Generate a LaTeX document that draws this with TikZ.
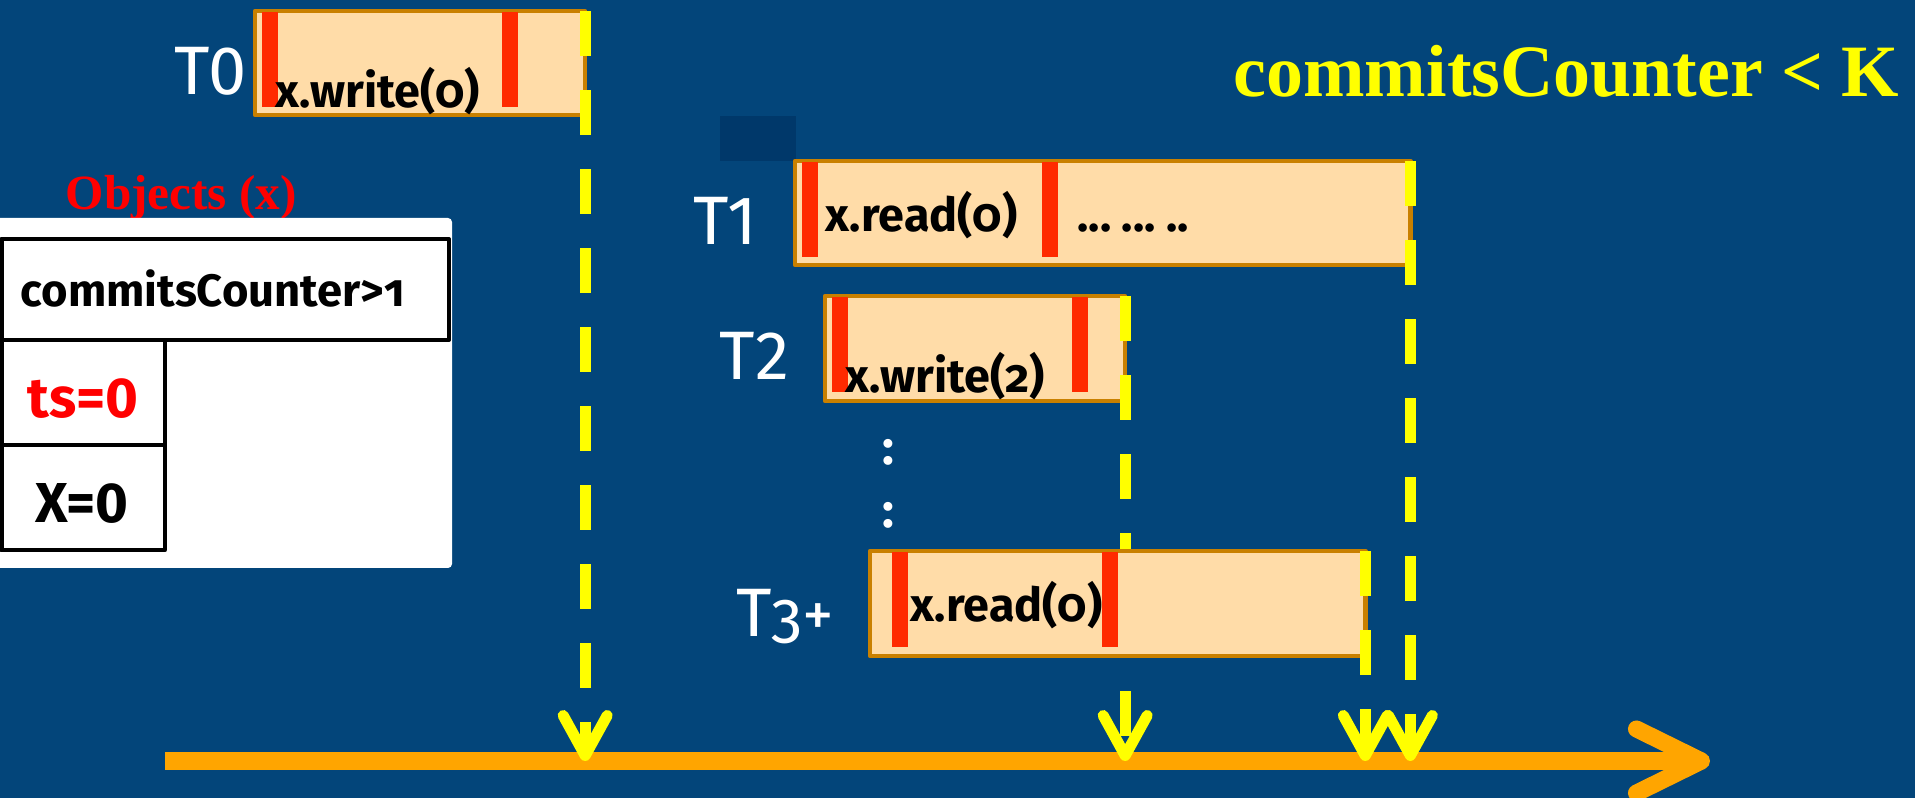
\documentclass[tikz,border=0pt]{standalone}
\usepackage{fontspec}
\usetikzlibrary{arrows.meta}
\newfontfamily\opfont{Fira Sans}[Numbers=OldStyle]
\newfontfamily\labfont{Fira Sans}
\newfontfamily\headfont{Liberation Serif}
\definecolor{slide}{HTML}{03457A}
\definecolor{darkslide}{HTML}{00386A}
\definecolor{peach}{HTML}{FFDCA8}
\definecolor{rim}{HTML}{C98000}
\definecolor{barred}{HTML}{FF2A00}
\definecolor{yel}{HTML}{FFFF00}
\definecolor{amber}{HTML}{FFA500}
\tikzset{
  txbox/.style={draw=rim, fill=peach, line width=0.45mm, inner sep=0pt, outer sep=0pt, anchor=north west},
  bar/.style={fill=barred},
  optext/.style={inner sep=0pt, font=\opfont\bfseries\fontsize{13.3}{15}\selectfont},
  tlabel/.style={inner sep=0pt, text=white, font=\labfont\fontsize{19.5}{22}\selectfont},
  cell/.style={draw=black, line width=0.4mm},
  commit/.style={draw=yel, line width=1.1mm, dash pattern=on 4.5mm off 3.4mm,
    -{Straight Barb[length=4mm,width=4.4mm,round]}},
  timeline/.style={draw=amber, line width=1.7mm, -{Straight Barb[length=6.5mm,width=6.4mm,round]}}
}
\begin{document}
\begin{tikzpicture}[x=0.01cm, y=-0.01cm, line join=round]
  \useasboundingbox (0,0) rectangle (1915,798);
  \clip (0,0) rectangle (1915,798);
  \fill[slide] (0,0) rectangle (1915,798);

  % object x
  \node[inner sep=0pt, text=red, font=\headfont\bfseries\fontsize{14}{16}\selectfont, anchor=base west] (obj) at (65,210) {Objects (x)};
  \fill[white, rounded corners=0.4mm] (-20,218) rectangle (452,568);
  \draw[cell] (1.5,239) rectangle (449,340);
  \draw[cell] (1.5,340) rectangle (164.5,445.5);
  \draw[cell] (1.5,445.5) rectangle (164.5,550.5);
  \node[inner sep=0pt, font=\opfont\bfseries\fontsize{12.9}{14}\selectfont, anchor=base west] (cc) at (20,307) {commitsCounter>1};
  \node[inner sep=0pt, text=red, font=\labfont\bfseries\fontsize{16}{18}\selectfont, anchor=base] (ts) at (83,418) {ts=0};
  \node[inner sep=0pt, font=\labfont\bfseries\fontsize{16}{18}\selectfont, anchor=base] (xv) at (82,523) {X=0};

  \node[inner sep=0pt, text=yel, font=\headfont\bfseries\fontsize{21}{24}\selectfont, anchor=base east] (cond) at (1900,97) {commitsCounter < K};

  \fill[darkslide] (720,116) rectangle (796,161);

  % time axis
  \coordinate (tl) at (165,761);
  \coordinate (tr) at (1710,761);
  \draw[timeline] (tl) -- (tr);

  % transactions
  \node[txbox, minimum width=3.30cm, minimum height=1.04cm] (t0) at (255,11) {};
  \node[txbox, minimum width=6.15cm, minimum height=1.04cm] (t1) at (795,161) {};
  \node[txbox, minimum width=3.00cm, minimum height=1.05cm] (t2) at (825,296) {};
  \foreach \tx/\dx in {t0/7,t0/247,t1/7,t1/247,t2/7,t2/247}
    \fill[bar] ([shift={(\dx,1)}]\tx.north west) rectangle +(16,95);

  \node[optext, anchor=base west] (op0) at (275,108) {x.write(0)};
  \node[optext, anchor=base west] (op1) at (825,232) {x.read(0)};
  \node[optext, anchor=base west] (more) at (1077,232) {...\kern3pt...\kern3pt..};
  \node[optext, anchor=base west] (op2) at (845,393) {x.write(2)};

  \node[tlabel, anchor=base east] (n0) at (247,95) {T0};
  \node[tlabel, anchor=base east] (n1) at (758,245) {T1};
  \node[tlabel, anchor=base east] (n2) at (790,380) {T2};
  \node[tlabel, anchor=base east] (n3) at (835,637) {T{\opfont\fontsize{18}{20}\selectfont 3+}};

  \node[inner sep=0pt, text=white, font=\labfont\bfseries\fontsize{14}{16}\selectfont] (c1) at (888,452) {:};
  \node[inner sep=0pt, text=white, font=\labfont\bfseries\fontsize{14}{16}\selectfont] (c2) at (888,515) {:};

  \draw[commit] (t0.north east) -- (t0.north east |- tl);
  \draw[commit] (t1.north east) -- (t1.north east |- tl);
  \draw[commit] (t2.north east) -- (t2.north east |- tl);

  % last one sits over the T2 line
  \node[txbox, minimum width=4.95cm, minimum height=1.05cm] (t3) at (870,551) {};
  \foreach \dx in {22,232}
    \fill[bar] ([shift={(\dx,1)}]t3.north west) rectangle +(16,95);
  \node[optext, anchor=base west] (op3) at (910,622) {x.read(0)};
  \draw[commit] (t3.north east) -- (t3.north east |- tl);
\end{tikzpicture}
\end{document}
